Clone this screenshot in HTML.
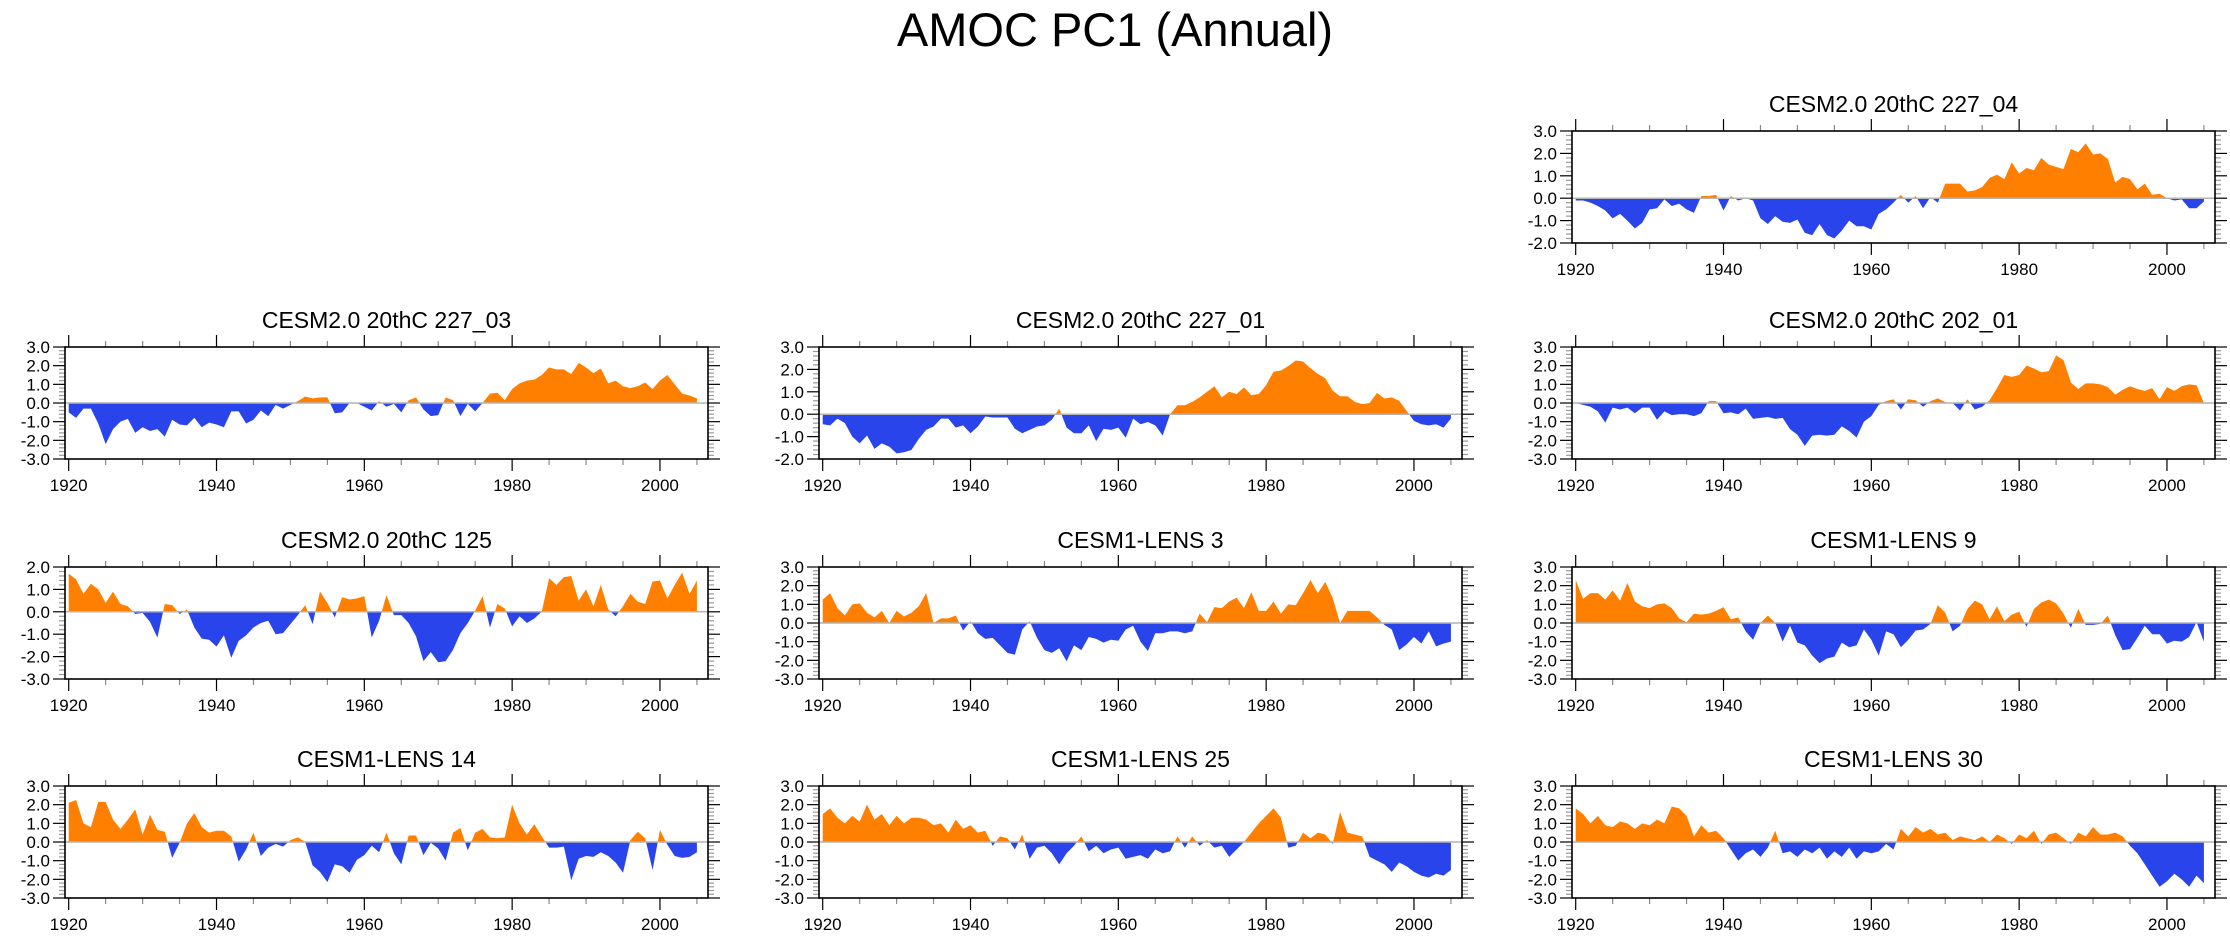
<!DOCTYPE html>
<html><head><meta charset="utf-8"><title>AMOC PC1 (Annual)</title>
<style>html,body{margin:0;padding:0;background:#fff}svg{display:block;font-family:"Liberation Sans",Arial,sans-serif}</style>
</head><body>
<svg id="chart" width="2230" height="936" viewBox="0 0 2230 936" xmlns="http://www.w3.org/2000/svg">
<text x="1115" y="46" font-size="47" text-anchor="middle">AMOC PC1 (Annual)</text>
</svg>
<script>
const firstYear = 1920;
const lastYear = 2005;
const xTickYears = [1920, 1940, 1960, 1980, 2000];
const panelTitles = ["CESM2.0 20thC 227_04","CESM2.0 20thC 227_03","CESM2.0 20thC 227_01","CESM2.0 20thC 202_01","CESM2.0 20thC 125","CESM1-LENS 3","CESM1-LENS 9","CESM1-LENS 14","CESM1-LENS 25","CESM1-LENS 30"];
const panelYMin = [-2,-3,-2,-3,-3,-3,-3,-3,-3,-3];
const panelYMax = [3,3,3,3,2,3,3,3,3,3];
const s227_04 = [-0.1,-0.1,-0.2,-0.35,-0.55,-0.9,-0.7,-1.0,-1.35,-1.1,-0.5,-0.45,-0.05,-0.35,-0.25,-0.5,-0.65,0.1,0.1,0.15,-0.55,0.1,-0.1,0.0,-0.1,-0.9,-1.15,-0.8,-1.05,-1.1,-0.95,-1.55,-1.65,-1.15,-1.65,-1.8,-1.45,-1.0,-1.25,-1.25,-1.4,-0.7,-0.5,-0.2,0.15,-0.2,0.1,-0.45,0.05,-0.2,0.65,0.65,0.65,0.3,0.35,0.5,0.9,1.05,0.85,1.6,1.1,1.35,1.25,1.8,1.5,1.4,1.3,2.2,2.05,2.45,1.95,2.0,1.75,0.7,0.95,0.85,0.4,0.65,0.15,0.2,0.0,-0.1,-0.05,-0.45,-0.45,-0.15];
const s227_03 = [-0.5,-0.8,-0.3,-0.3,-1.1,-2.2,-1.4,-1.0,-0.85,-1.6,-1.3,-1.5,-1.4,-1.8,-0.9,-1.15,-1.2,-0.8,-1.3,-1.05,-1.15,-1.3,-0.45,-0.45,-1.1,-0.9,-0.4,-0.7,-0.1,-0.3,-0.1,0.1,0.35,0.25,0.3,0.3,-0.55,-0.5,0.0,0.0,-0.2,-0.4,0.1,-0.2,-0.05,-0.5,0.15,0.3,-0.35,-0.7,-0.65,0.3,0.15,-0.7,-0.05,-0.45,0.0,0.5,0.55,0.15,0.75,1.05,1.2,1.25,1.5,1.9,1.8,1.8,1.55,2.15,1.9,1.6,1.85,1.05,1.2,0.9,0.8,0.9,1.1,0.75,1.2,1.5,1.0,0.5,0.4,0.25];
const s227_01 = [-0.45,-0.5,-0.2,-0.4,-1.0,-1.3,-0.95,-1.55,-1.3,-1.45,-1.75,-1.7,-1.6,-1.1,-0.7,-0.55,-0.2,-0.2,-0.6,-0.5,-0.85,-0.55,-0.1,-0.15,-0.15,-0.15,-0.65,-0.85,-0.7,-0.55,-0.5,-0.25,0.25,-0.6,-0.85,-0.85,-0.5,-1.2,-0.65,-0.7,-0.6,-1.05,-0.2,-0.45,-0.35,-0.5,-0.95,0.0,0.4,0.4,0.55,0.75,1.0,1.25,0.75,1.0,0.9,1.2,0.85,0.9,1.3,1.9,1.95,2.15,2.4,2.35,2.05,1.8,1.6,1.05,0.8,0.8,0.55,0.45,0.5,0.95,0.7,0.75,0.6,0.15,-0.3,-0.45,-0.5,-0.45,-0.6,-0.2];
const s202_01 = [0.0,-0.1,-0.2,-0.45,-1.05,-0.25,-0.35,-0.25,-0.55,-0.25,-0.25,-0.9,-0.45,-0.65,-0.6,-0.6,-0.7,-0.55,0.1,0.1,-0.55,-0.5,-0.6,-0.3,-0.85,-0.8,-0.75,-0.85,-0.8,-1.4,-1.7,-2.3,-1.75,-1.7,-1.75,-1.7,-1.25,-1.5,-1.85,-1.0,-0.7,-0.1,0.1,0.2,-0.35,0.2,0.15,-0.2,0.1,0.25,0.05,0.0,-0.4,0.2,-0.35,-0.2,0.15,0.8,1.5,1.4,1.5,2.0,1.85,1.65,1.7,2.55,2.3,1.1,0.75,1.05,1.05,1.0,0.85,0.45,0.7,0.9,0.75,0.65,0.8,0.2,0.85,0.65,0.9,1.0,0.95,0.0];
const s125 = [1.7,1.45,0.8,1.25,1.0,0.4,0.9,0.35,0.25,-0.1,-0.05,-0.45,-1.15,0.35,0.3,-0.1,0.1,-0.7,-1.2,-1.25,-1.55,-1.05,-2.05,-1.3,-1.05,-0.7,-0.5,-0.4,-1.0,-0.95,-0.55,-0.15,0.3,-0.55,0.9,0.4,-0.25,0.65,0.55,0.6,0.7,-1.15,-0.4,0.75,-0.15,-0.15,-0.5,-1.1,-2.2,-1.8,-2.25,-2.2,-1.7,-0.95,-0.5,0.05,0.7,-0.7,0.35,0.15,-0.65,-0.2,-0.5,-0.3,0.0,1.5,1.2,1.55,1.6,0.5,1.0,0.25,1.2,0.1,-0.2,0.25,0.8,0.45,0.35,1.35,1.4,0.6,1.2,1.75,0.8,1.4];
const sLens3 = [1.25,1.6,0.8,0.4,1.0,1.05,0.55,0.3,0.65,0.0,0.65,0.35,0.55,0.9,1.6,0.0,0.25,0.25,0.4,-0.4,0.1,-0.55,-0.85,-0.8,-1.2,-1.6,-1.7,-0.35,0.1,-0.8,-1.45,-1.6,-1.35,-2.05,-1.2,-1.45,-0.75,-0.85,-1.05,-0.9,-0.95,-0.35,-0.15,-1.0,-1.5,-0.55,-0.55,-0.45,-0.45,-0.55,-0.45,0.5,0.05,0.85,0.8,1.15,1.35,0.8,1.65,0.65,0.65,1.15,0.5,1.0,0.95,1.6,2.3,1.6,2.2,1.35,0.0,0.65,0.65,0.65,0.65,0.3,-0.1,-0.35,-1.45,-1.15,-0.75,-1.1,-0.45,-1.25,-1.1,-1.0];
const sLens9 = [2.3,1.3,1.6,1.6,1.25,1.75,1.2,2.15,1.15,0.9,0.8,1.0,1.05,0.8,0.25,0.05,0.5,0.45,0.5,0.65,0.85,0.2,0.3,-0.45,-0.9,0.0,0.4,0.0,-1.0,-0.15,-1.05,-1.2,-1.75,-2.15,-1.9,-1.8,-1.05,-1.3,-1.2,-0.35,-0.9,-1.75,-0.45,-0.6,-1.3,-0.9,-0.4,-0.35,-0.05,0.95,0.55,-0.45,-0.15,0.75,1.2,1.0,0.2,0.9,0.1,0.45,0.6,-0.2,0.75,1.1,1.25,1.05,0.5,-0.25,0.75,-0.1,-0.1,-0.05,0.4,-0.65,-1.45,-1.4,-0.8,-0.15,-0.6,-0.6,-1.1,-0.95,-1.0,-0.75,0.05,-1.0];
const sLens14 = [2.1,2.25,1.0,0.8,2.15,2.15,1.2,0.7,1.2,1.75,0.4,1.45,0.65,0.55,-0.85,-0.05,1.0,1.55,0.8,0.5,0.6,0.6,0.3,-1.05,-0.4,0.5,-0.75,-0.3,-0.1,-0.25,0.1,0.25,0.0,-1.25,-1.6,-2.15,-1.2,-1.3,-1.65,-0.95,-0.7,-0.2,-0.55,0.5,-0.6,-1.2,0.35,0.35,-0.7,-0.05,-0.35,-1.0,0.5,0.75,-0.45,0.5,0.7,0.25,0.2,0.25,2.0,1.0,0.4,0.95,0.3,-0.3,-0.3,-0.25,-2.05,-0.9,-0.75,-0.8,-0.55,-0.75,-1.1,-1.65,0.1,0.55,0.2,-1.5,0.65,-0.15,-0.75,-0.85,-0.8,-0.55];
const sLens25 = [1.5,1.8,1.3,1.0,1.4,1.1,2.0,1.2,1.5,0.9,1.4,1.0,1.3,1.3,1.2,0.9,1.0,0.5,1.2,0.7,0.9,0.5,0.6,-0.2,0.3,0.2,-0.4,0.4,-0.9,-0.3,-0.2,-0.6,-1.2,-0.6,-0.2,0.3,-0.5,-0.2,-0.6,-0.4,-0.3,-0.9,-0.8,-0.7,-0.9,-0.4,-0.6,-0.5,0.3,-0.3,0.3,-0.2,0.1,-0.3,-0.2,-0.8,-0.4,0.0,0.5,1.0,1.4,1.8,1.3,-0.3,-0.2,0.5,0.2,0.5,0.4,-0.1,1.6,0.5,0.4,0.3,-0.8,-1.0,-1.2,-1.6,-1.1,-1.3,-1.6,-1.8,-1.9,-1.7,-1.8,-1.5];
const sLens30 = [1.8,1.5,1.0,1.4,0.9,0.8,1.1,1.0,0.7,1.0,0.9,1.2,1.0,1.9,1.8,1.4,0.3,0.9,0.5,0.6,0.2,-0.4,-1.0,-0.6,-0.4,-0.8,-0.3,0.6,-0.6,-0.5,-0.8,-0.4,-0.6,-0.3,-0.9,-0.5,-0.8,-0.3,-0.9,-0.5,-0.6,-0.5,-0.1,-0.4,0.7,0.3,0.8,0.5,0.7,0.4,0.5,0.1,0.3,0.2,0.1,0.3,0.0,0.4,0.2,-0.1,0.4,0.2,0.6,-0.1,0.4,0.5,0.2,-0.1,0.5,0.3,0.8,0.4,0.4,0.5,0.3,-0.2,-0.6,-1.2,-1.8,-2.4,-2.1,-1.7,-2.0,-2.4,-1.8,-2.2];
const panelSeries = [s227_04, s227_03, s227_01, s202_01, s125, sLens3, sLens9, sLens14, sLens25, sLens30];
const panelCol = [2,0,1,2,0,1,2,0,1,2];
const panelRow = [0,1,1,1,2,2,2,3,3,3];

const NS = "http://www.w3.org/2000/svg";
const svg = document.getElementById("chart");
const colLeft = [65, 819, 1572];
const rowTop = [131, 347, 567, 786];
const PW = 643, PH = 112;
const XMIN = 1919.5, XMAX = 2006.5;
const years = [];
for (let y = firstYear; y <= lastYear; y++) years.push(y);

function mk(tag, attrs, parent) {
  const e = document.createElementNS(NS, tag);
  for (const k in attrs) e.setAttribute(k, attrs[k]);
  (parent || svg).appendChild(e);
  return e;
}

panelSeries.forEach((vals, i) => {
  const L = colLeft[panelCol[i]], T = rowTop[panelRow[i]];
  const ymin = panelYMin[i], ymax = panelYMax[i];
  const xs = v => L + (v - XMIN) / (XMAX - XMIN) * PW;
  const ys = v => T + (ymax - v) / (ymax - ymin) * PH;
  const g = mk("g", {});
  
  

  const t = mk("text", {x: L + PW / 2, y: T - 19, "font-size": 23, "text-anchor": "middle"}, g);
  
  
  t.textContent = panelTitles[i];

  const y0 = ys(0);
  const cidA = "ca" + i, cidB = "cb" + i;
  const defs = mk("defs", {}, g);
  const ca = mk("clipPath", {id: cidA}, defs);
  mk("rect", {x: L, y: T, width: PW, height: y0 - T}, ca);
  const cb = mk("clipPath", {id: cidB}, defs);
  mk("rect", {x: L, y: y0, width: PW, height: T + PH - y0}, cb);

  let d = "M" + xs(years[0]).toFixed(2) + "," + y0.toFixed(2);
  vals.forEach((v, k) => { d += " L" + xs(years[k]).toFixed(2) + "," + ys(v).toFixed(2); });
  d += " L" + xs(years[vals.length - 1]).toFixed(2) + "," + y0.toFixed(2) + " Z";
  const pa = mk("path", {d: d, fill: "#FF8000", "clip-path": "url(#" + cidA + ")"}, g);
  
  
  const pb = mk("path", {d: d, fill: "#2A44EC", "clip-path": "url(#" + cidB + ")"}, g);
  
  

  const zl = mk("line", {x1: L, x2: L + PW, y1: y0, y2: y0, stroke: "#b4b4b4", "stroke-width": 1.5}, g);
  
  

  for (let yr = 1920; yr <= 2005; yr += 5) {
    const major = xTickYears.includes(yr);
    const len = major ? 12 : 6;
    const x = xs(yr);
    mk("line", {x1: x, x2: x, y1: T + PH, y2: T + PH + len, stroke: major ? "#000" : "#888", "stroke-width": 1.2}, g);
    mk("line", {x1: x, x2: x, y1: T, y2: T - len, stroke: major ? "#000" : "#888", "stroke-width": 1.2}, g);
  }
  xTickYears.forEach(yr => {
    const tl = mk("text", {x: xs(yr), y: T + PH + 32, "font-size": 17, "text-anchor": "middle"}, g);
    
    
    tl.textContent = yr;
  });
  for (let k = 0; k <= (ymax - ymin) * 5; k++) {
    const v = ymin + k * 0.2;
    const major = k % 5 === 0;
    const len = major ? 12 : 6;
    const y = ys(v);
    mk("line", {x1: L, x2: L - len, y1: y, y2: y, stroke: major ? "#000" : "#999", "stroke-width": 1.2}, g);
    mk("line", {x1: L + PW, x2: L + PW + len, y1: y, y2: y, stroke: major ? "#000" : "#999", "stroke-width": 1.2}, g);
    if (major) {
      const yl = mk("text", {x: L - 15, y: y + 6, "font-size": 17, "text-anchor": "end"}, g);
      
      
      yl.textContent = v.toFixed(1);
    }
  }
  const fr = mk("rect", {x: L, y: T, width: PW, height: PH, fill: "none", stroke: "#000", "stroke-width": 1.6}, g);
  
  
});
</script>
</body></html>
